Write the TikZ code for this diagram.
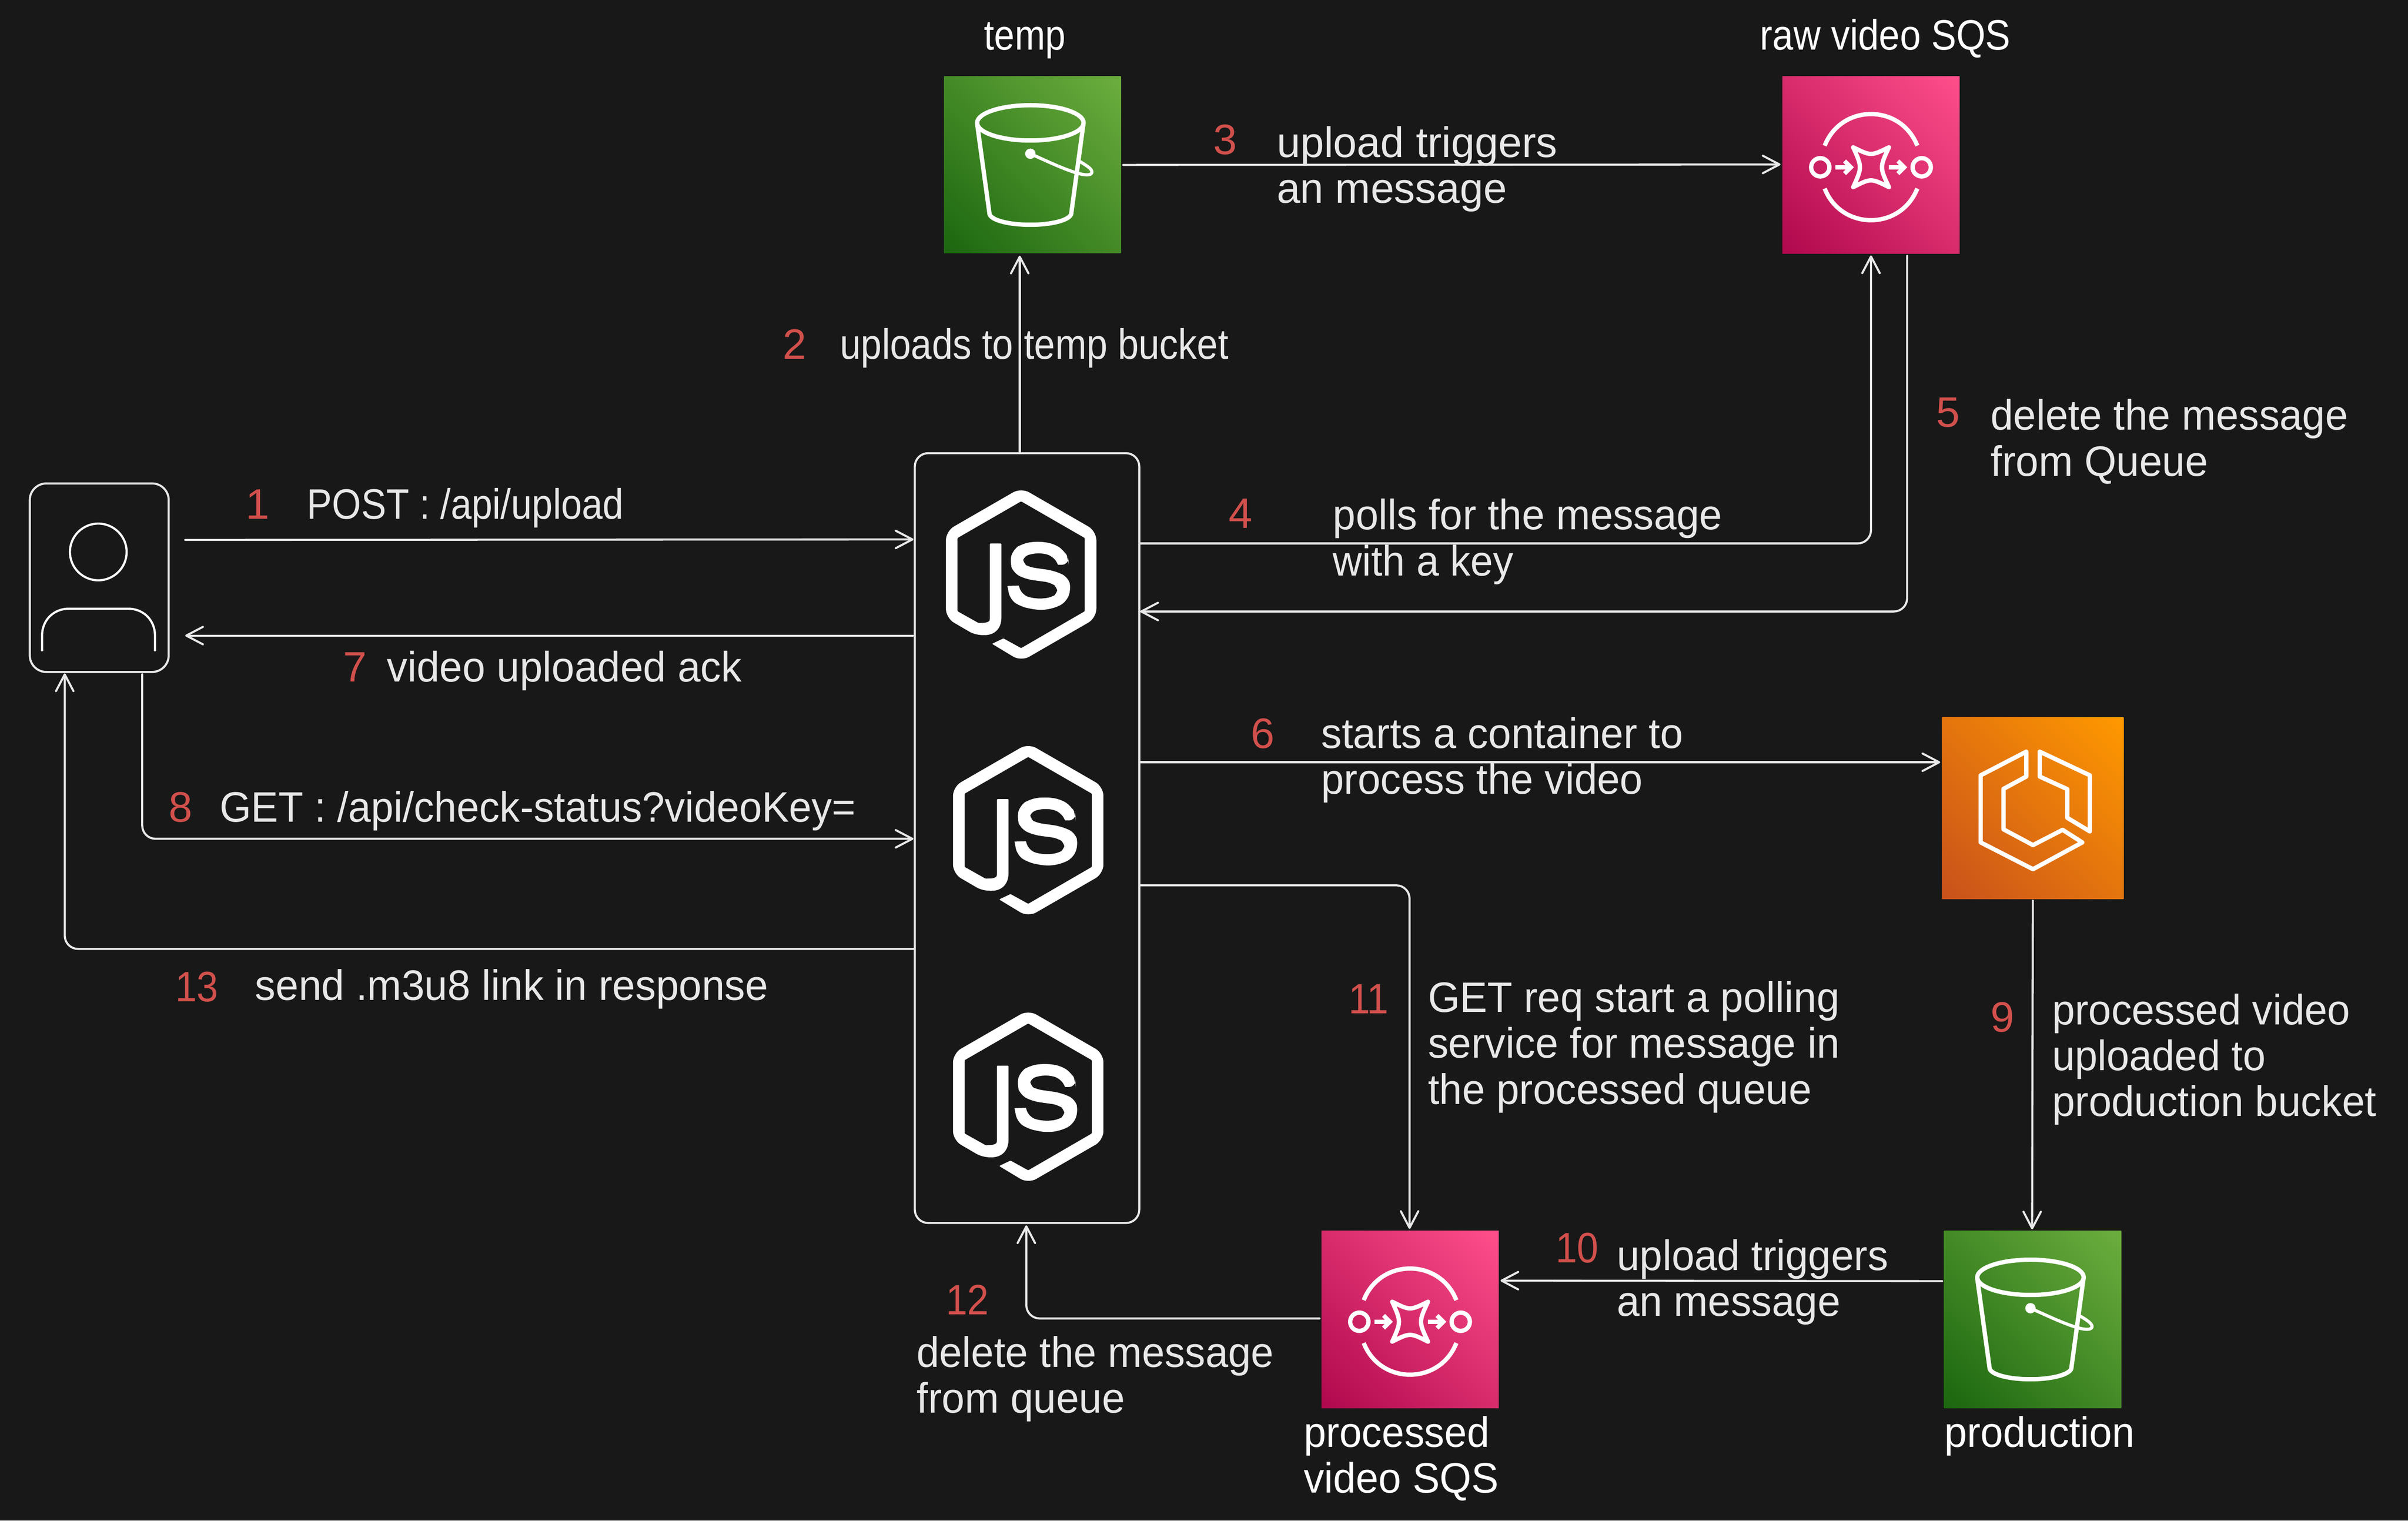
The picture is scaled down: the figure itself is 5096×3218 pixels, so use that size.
\documentclass[tikz,border=0pt]{standalone}
\usepackage{fontspec}
\usepackage{graphicx}
\setmainfont{Liberation Sans}
\usetikzlibrary{arrows.meta,shadings}
\newdimen\px \px=0.01cm
\newcommand{\tw}[2]{\resizebox{#1\px}{\height}{#2}}
\definecolor{bgc}{HTML}{181818}
\definecolor{ink}{HTML}{E8E8E8}
\definecolor{numred}{HTML}{D2504C}
\definecolor{s3a}{HTML}{1B660F}\definecolor{s3b}{HTML}{6CAE3E}
\definecolor{sqa}{HTML}{B0084D}\definecolor{sqb}{HTML}{FF4F8B}
\definecolor{eca}{HTML}{C8511B}\definecolor{ecb}{HTML}{FF9900}
\pgfdeclareverticalshading{sthreegrad}{100bp}{color(0bp)=(s3a); color(14.6bp)=(s3a); color(85.4bp)=(s3b); color(100bp)=(s3b)}
\pgfdeclareverticalshading{sqsgrad}{100bp}{color(0bp)=(sqa); color(14.6bp)=(sqa); color(85.4bp)=(sqb); color(100bp)=(sqb)}
\pgfdeclareverticalshading{ecsgrad}{100bp}{color(0bp)=(eca); color(14.6bp)=(eca); color(85.4bp)=(ecb); color(100bp)=(ecb)}
\tikzset{
  every node/.style={inner sep=0pt,outer sep=0pt},
  conn/.style={draw=ink,line width=1.25pt,line cap=round,line join=round,rounded corners=8pt},
  arr/.style={conn,-{Straight Barb[length=10pt,width=10.5pt,round]}},
  sketchbox/.style={draw=ink,line width=1.25pt,rounded corners=#1},
  txt/.style={text=ink,anchor=base west,align=left,font=\fontsize{25.6}{27.6}\selectfont},
  wtxt/.style={txt,text=white},
  num/.style={txt,text=numred},
  awsbox/.style={minimum width=#1\px,minimum height=#1\px},
  s3box/.style={shade,shading=sthreegrad,shading angle=-45},
  sqsbox/.style={shade,shading=sqsgrad,shading angle=-45},
  ecsbox/.style={shade,shading=ecsgrad,shading angle=-45},
  ic/.style={draw=white,line width=2.6pt,line join=round},
  pics/bucket/.style={code={
    \begin{scope}[scale=1/3,shift={(-704.5,-687)}]
      \draw[ic] (691,420) ellipse [x radius=338,y radius=112];
      \draw[ic] (353,425)--(432,1000) .. controls (445,1040) and (560,1067) .. (691,1067) .. controls (820,1067) and (935,1040) .. (950,1000)--(1028,425);
      \fill[white] (691,616) circle [radius=33];
      \draw[ic,line width=1.9pt] (691,616)--(800,665) .. controls (900,710) and (1000,750) .. (1050,750) .. controls (1085,750) and (1090,730) .. (1070,710) .. controls (1055,695) and (1030,680) .. (1005,665);
    \end{scope}}},
  pics/sqslogo/.style={code={
    \begin{scope}[scale=1/3,shift={(-778,-747)}]
      \draw[ic] (484,625) .. controls (589,357) and (967,357) .. (1072,625);
      \draw[ic] (484,897) .. controls (589,1165) and (967,1165) .. (1072,897);
      \draw[ic] (456,762) circle [radius=58];
      \draw[ic] (1100,762) circle [radius=58];
      \draw[ic] (665,635) .. controls (778,691) .. (892,635) .. controls (833,762) .. (892,888) .. controls (778,831) .. (665,888) .. controls (722,762) .. (665,635) -- cycle;
      \draw[ic,line join=miter] (553,762)--(645,762);
      \draw[ic,line join=miter] (610,722)--(650,762)--(610,802);
      \draw[ic,line join=miter] (891,762)--(985,762);
      \draw[ic,line join=miter] (949,722)--(989,762)--(949,802);
    \end{scope}}},
  pics/ecslogo/.style={code={
    \begin{scope}[scale=1/3,shift={(-726,-690)}]
      \draw[ic] (684,332)--(395,482)--(395,908)--(727,1078)--(1040,908)--(915,828)--(727,925)--(540,825)--(540,568)--(684,490)--cycle;
      \draw[ic] (770,332)--(1088,482)--(1088,838)--(945,752)--(945,570)--(770,490)--cycle;
    \end{scope}}},
  pics/nodelogo/.style={code={
    \begin{scope}[scale=1/2.613,shift={(-721,-737.5)}]
      \fill[white,rounded corners=5.5pt] (721,257)--(1137,497)--(1137,977)--(721,1217)
        [rounded corners=0.4pt]--(560,1120)--(623,1090)--(721,1144)--(1073,940)--(1073,535)--(721,332)--(369,535)--(369,940)--(485,1005)--(525,1003)
        .. controls (548,995) .. (548,965)--(548,565)--(612,565)--(612,970)
        .. controls (612,1040) and (570,1072) .. (515,1072)
        .. controls (480,1072) and (450,1062) .. (430,1050)
        [rounded corners=5.5pt]--(305,977)--(305,497)--cycle;
      \fill[white,rounded corners=4pt] (983,683)[sharp corners]--(925,683)[rounded corners=4pt]--(900,635)--(820,615)--(730,635)--(728,675)--(760,695)--(900,715)--(980,750)--(998,815)--(970,890)--(900,925)--(820,935)--(720,915)--(660,875)[sharp corners]--(645,800)--(708,798)[rounded corners=4pt]--(725,850)--(800,872)--(890,865)--(925,840)--(925,810)--(890,782)--(750,763)--(680,730)--(658,670)--(675,600)--(730,565)--(810,553)--(900,565)--(960,605)--(983,650)--cycle;
    \end{scope}}},
  pics/person/.style={code={
    \draw[draw=white,line width=1.3pt] (-2,-54.5) circle [radius=60];
    \draw[draw=white,line width=1.3pt] (-121,155.5)--(-121,123) .. controls (-121,88) and (-95,65.5) .. (-64,65.5)--(61,65.5) .. controls (92,65.5) and (118,88) .. (118,123)--(118,155.5);
  }}
}
\begin{document}
\begin{tikzpicture}[x=0.01cm,y=-0.01cm]
\fill[bgc] (0,0) rectangle (5096,3218);
\useasboundingbox (0,0) rectangle (5096,3218);
% main nodes
\node[sketchbox=10pt,minimum width=294\px,minimum height=399\px] (user) at (210,1222.5) {};
\node[sketchbox=8pt,minimum width=475\px,minimum height=1629\px] (server) at (2173.5,1773.5) {};
\node[awsbox=374,s3box] (temp) at (2185,349) {};
\node[awsbox=375,sqsbox] (rawsqs) at (3959.5,349) {};
\node[awsbox=384,ecsbox] (ecs) at (4302,1710) {};
\node[awsbox=375,s3box] (prod) at (4301.5,2792) {};
\node[awsbox=375,sqsbox] (procsqs) at (2984,2792) {};
% icons
\pic at (user.center) {person};
\pic at (2161,1216) {nodelogo};
\pic at (2176,1757) {nodelogo};
\pic at (2176,2321) {nodelogo};
\pic at (temp.center) {bucket};
\pic at (prod.center) {bucket};
\pic at (rawsqs.center) {sqslogo};
\pic at (procsqs.center) {sqslogo};
\pic at (ecs.center) {ecslogo};
% connectors
\draw[arr] ([shift={(35,-80)}]user.east) -- ([shift={(-3,-632)}]server.west);
\draw[arr] ([shift={(-15.5,-3)}]server.north) -- ([shift={(-15.5,5)}]server.north |- temp.south);
\draw[arr] ([shift={(5,0)}]temp.east) -- ([shift={(-4,-1)}]rawsqs.west);
\draw[arr] ([shift={(2,-623.5)}]server.east) -| ([shift={(0,4)}]rawsqs.south);
\draw[arr] ([shift={(76.5,5)}]rawsqs.south) |- ([shift={(2,-479.5)}]server.east);
\draw[arr] ([shift={(2,-160.5)}]server.east) -- ([shift={(-4,-97)}]ecs.west);
\draw[arr] ([shift={(-4,-428.5)}]server.west) -- ([shift={(35,122.5)}]user.east);
\draw[arr] ([shift={(91,5)}]user.south) |- ([shift={(-3,1.5)}]server.west);
\draw[arr] ([shift={(0,4)}]ecs.south) -- ([shift={(-1,-3)}]prod.north);
\draw[arr] ([shift={(-4,-81)}]prod.west) -- ([shift={(4,-82)}]procsqs.east);
\draw[arr] ([shift={(2,100)}]server.east) -| ([shift={(-1,-4)}]procsqs.north);
\draw[arr] ([shift={(-4,-2)}]procsqs.west) -| ([shift={(-1.5,5)}]server.south);
\draw[arr] ([shift={(-2,234.5)}]server.west) -| ([shift={(-73,3)}]user.south);
% labels
\node[wtxt] (ltemp) at (2083,106) {\tw{172}{temp}};
\node[wtxt] (lraw) at (3725,106) {\tw{530}{raw video SQS}};
\node[wtxt] (lproc) at (2759,3159) {\tw{393}{processed}\\\tw{413}{video SQS}};
\node[wtxt] (lprod) at (4115,3062) {\tw{403}{production}};
\node[num] (n1) at (520,1098) {1};
\node[txt] (t1) at (650,1098) {\tw{670}{POST : /api/upload}};
\node[num] (n2) at (1657,760) {2};
\node[txt] (t2) at (1778,760) {\tw{822}{uploads to temp bucket}};
\node[num] (n3) at (2568,327) {3};
\node[txt] (t3) at (2702,430) {\tw{594}{upload triggers}\\\tw{487}{an message}};
\node[num] (n4) at (2600,1118) {4};
\node[txt] (t4) at (2821,1218) {\tw{824}{polls for the message}\\\tw{382}{with a key}};
\node[num] (n5) at (4098,904) {5};
\node[txt] (t5) at (4213,1007) {\tw{756}{delete the message}\\\tw{460}{from Queue}};
\node[num] (n6) at (2647,1583) {6};
\node[txt] (t6) at (2796,1680) {\tw{766}{starts a container to}\\\tw{681}{process the video}};
\node[num] (n7) at (726,1443) {7};
\node[txt] (t7) at (819,1443) {\tw{751}{video uploaded ack}};
\node[num] (n8) at (357,1739) {8};
\node[txt] (t8) at (465,1739) {\tw{1346}{GET : /api/check-status?videoKey=}};
\node[num] (n9) at (4213,2184) {9};
\node[txt] (t9) at (4343,2362) {\tw{631}{processed video}\\\tw{452}{uploaded to}\\\tw{686}{production bucket}};
\node[num] (n10) at (3292,2672) {\tw{91}{10}};
\node[txt] (t10) at (3422,2785) {\tw{574}{upload triggers}\\\tw{473}{an message}};
\node[num] (n11) at (2854,2145) {\tw{85}{11}};
\node[txt] (t11) at (3022,2336) {\tw{871}{GET req start a polling}\\\tw{871}{service for message in}\\\tw{812}{the processed queue}};
\node[num] (n12) at (2002,2782) {\tw{91}{12}};
\node[txt] (t12) at (1940,2990) {\tw{756}{delete the message}\\\tw{441}{from queue}};
\node[num] (n13) at (371,2119) {\tw{91}{13}};
\node[txt] (t13) at (540,2116) {\tw{1086}{send .m3u8 link in response}};
\end{tikzpicture}
\end{document}
